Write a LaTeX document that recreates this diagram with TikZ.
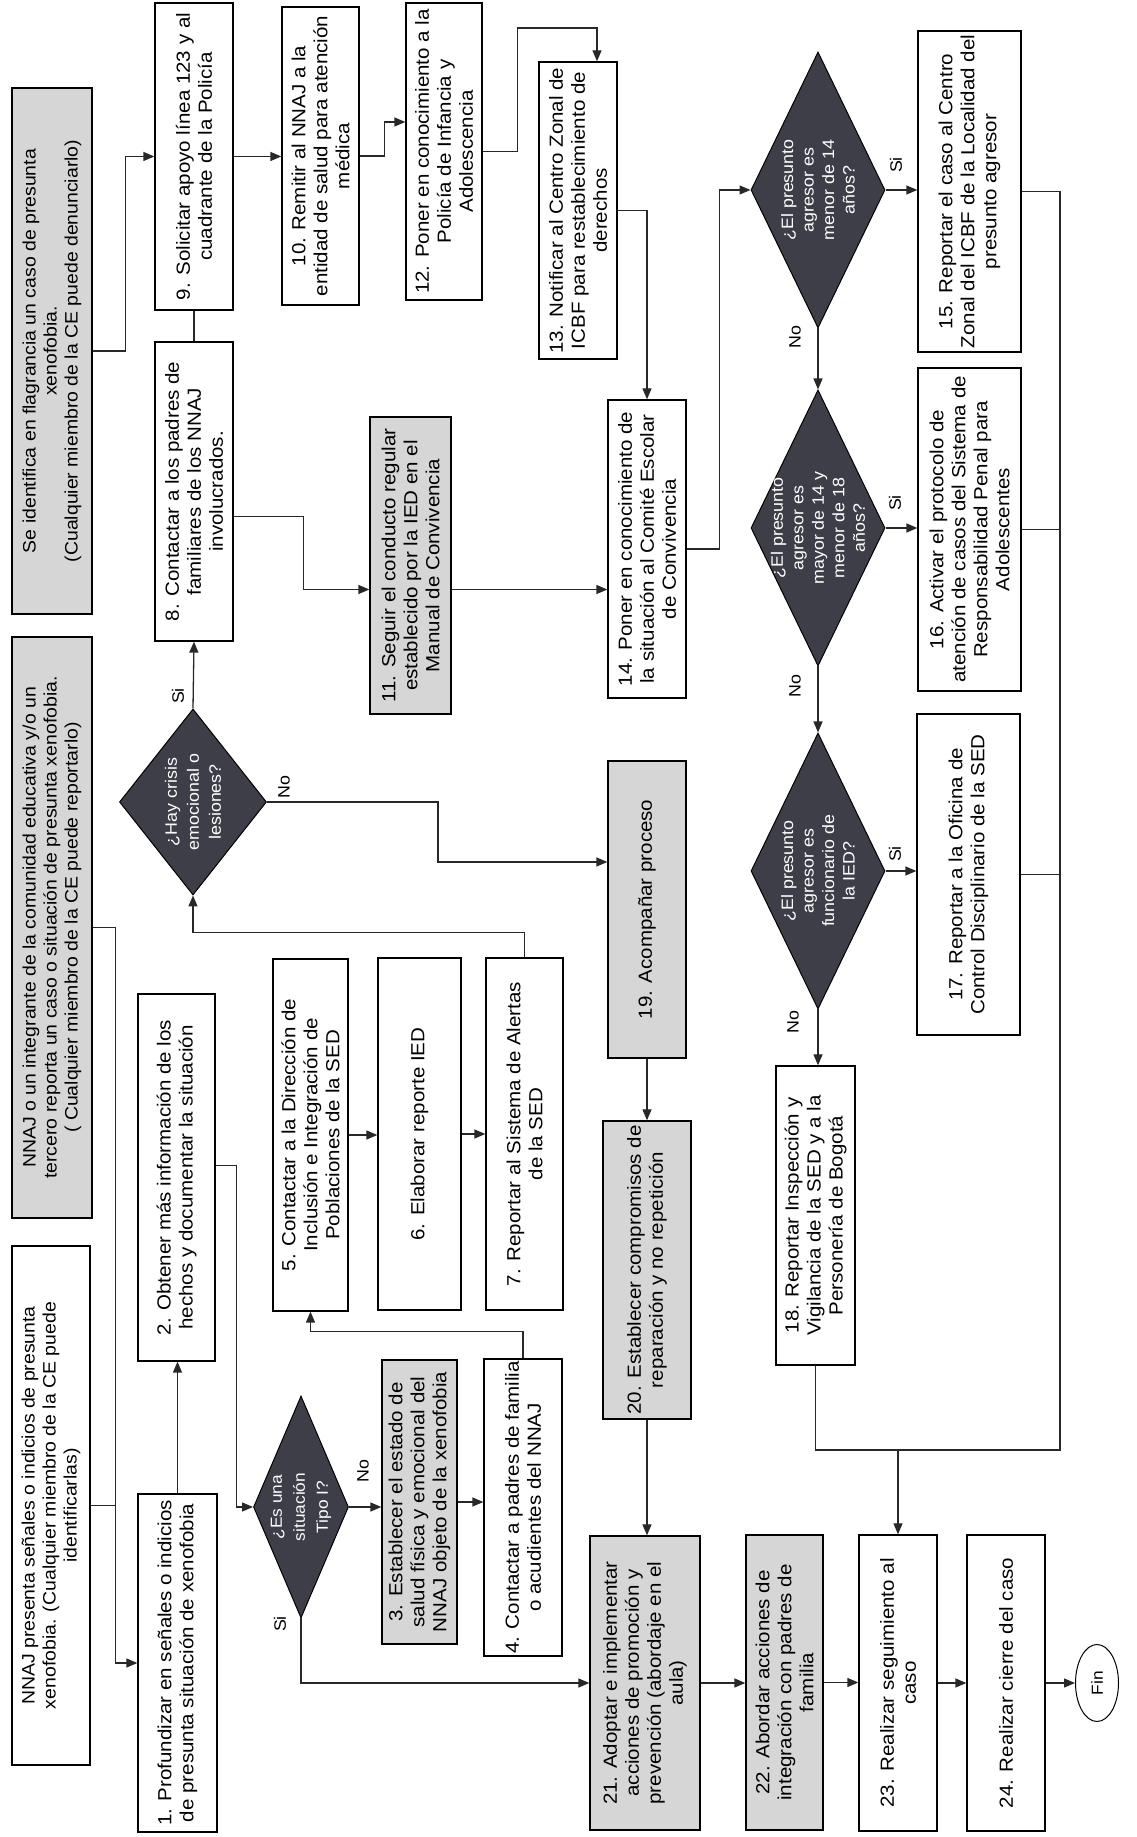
\documentclass[tikz,border=0pt]{standalone}
\usepackage{fontspec}
\setmainfont{Liberation Sans}[FakeStretch=1.08]
\usetikzlibrary{shapes.geometric,arrows.meta,calc}
\definecolor{diafill}{RGB}{62,62,72}
\definecolor{boxgray}{RGB}{214,214,214}
\definecolor{linecol}{RGB}{40,40,40}
\tikzset{
  box/.style={draw=black, line width=1.3pt, fill=white, inner sep=2pt, align=center, font=\fontsize{19}{22}\selectfont, text=black},
  gbox/.style={box, fill=boxgray},
  topbox/.style={box, font=\fontsize{18}{21}\selectfont},
  dia/.style={diamond, draw=black, line width=1pt, fill=diafill, inner sep=0pt},
  dtext/.style={align=center, text=white, inner sep=0pt, font=\fontsize{16.5}{20.5}\selectfont},
  lbl/.style={font=\fontsize{16.5}{18}\selectfont, inner sep=0pt},
  line/.style={draw=linecol, line width=1.3pt},
  con/.style={line, -{Triangle[length=11pt,width=9pt]}},
}
\begin{document}
\begin{tikzpicture}[x=1pt,y=1pt]
\fill[white] (0,0) rectangle (1137,1837);
\useasboundingbox (0,0) rectangle (1137,1837);
\begin{scope}[rotate=90, transform shape]
% top row
\node[topbox, fill=boxgray, minimum width=526pt, minimum height=80pt] (flag) at (1486,-52) {Se identifica en flagrancia un caso de presunta\\xenofobia.\\(Cualquier miembro de la CE puede denunciarlo)};
\node[topbox, fill=boxgray, minimum width=581pt, minimum height=80pt] (rep) at (909.5,-52) {NNAJ o un integrante de la comunidad educativa y/o un\\tercero reporta un caso o situación de presunta xenofobia.\\( Cualquier miembro de la CE puede reportarlo)};
\node[topbox, minimum width=519pt, minimum height=78pt] (sen) at (331.5,-51) {NNAJ presenta señales o indicios de presunta\\xenofobia. (Cualquier miembro de la CE puede\\identificarlas)};
% left part
\node[box, minimum width=338pt, minimum height=79pt] (b1) at (174,-177.5) {1. Profundizar en señales o indicios\\de presunta situación de xenofobia};
\node[box, minimum width=367pt, minimum height=77pt] (b2) at (659.5,-176.5) {2. Obtener más información de los\\hechos y documentar la situación};
\node[dia, minimum width=222pt, minimum height=95pt] (T1) at (330,-301) {};
\node[dtext, font=\fontsize{16}{23}\selectfont] at (T1) {¿Es una\\situación\\Tipo I?};
\node[gbox, minimum width=284pt, minimum height=75pt] (b3) at (335,-419.5) {3. Establecer el estado de\\salud física y emocional del\\NNAJ objeto de la xenofobia};
\node[box, minimum width=295pt, minimum height=78pt] (b4) at (329.5,-523) {4. Contactar a padres de familia\\o acudientes del NNAJ};
\node[box, minimum width=352pt, minimum height=75pt] (b5) at (702,-310.5) {5. Contactar a la Dirección de\\Inclusión e Integración de\\Poblaciones de la SED};
\node[box, minimum width=352pt, minimum height=83pt] (b6) at (703,-419.5) {6. Elaborar reporte IED};
\node[box, minimum width=352pt, minimum height=77pt] (b7) at (703,-524.5) {7. Reportar al Sistema de Alertas\\de la SED};
\node[dia, minimum width=186pt, minimum height=147pt] (crisis) at (1035,-193) {};
\node[dtext, font=\fontsize{16.5}{22}\selectfont] at (crisis) {¿Hay crisis\\emocional o\\lesiones?};
\node[box, minimum width=299pt, minimum height=78pt] (b8) at (1345.5,-194) {8. Contactar a los padres de\\familiares de los NNAJ\\involucrados.};
\node[box, minimum width=307pt, minimum height=78pt] (b9) at (1680.5,-194) {9. Solicitar apoyo línea 123 y al\\cuadrante de la Policía};
\node[box, minimum width=298pt, minimum height=77pt] (b10) at (1681,-320.5) {10. Remitir al NNAJ a la\\entidad de salud para atención\\médica};
\node[gbox, minimum width=297pt, minimum height=81pt] (b11) at (1271.5,-410.5) {11. Seguir el conducto regular\\establecido por la IED en el\\Manual de Convivencia};
\node[box, minimum width=297pt, minimum height=76pt] (b12) at (1685.5,-444) {12. Poner en conocimiento a la\\Policía de Infancia y\\Adolescencia};
\node[box, minimum width=297pt, minimum height=78pt] (b13) at (1626.5,-578) {13. Notificar al Centro Zonal de\\ICBF para restablecimiento de\\derechos};
\node[box, minimum width=298pt, minimum height=78pt] (b14) at (1288,-647) {14. Poner en conocimiento de\\la situación al Comité Escolar\\de Convivencia};
\node[gbox, minimum width=297pt, minimum height=78pt] (b19) at (927.5,-647) {19. Acompañar proceso};
\node[gbox, minimum width=298pt, minimum height=88pt] (b20) at (567,-647) {20. Establecer compromisos de\\reparación y no repetición};
\node[gbox, minimum width=294pt, minimum height=110pt] (b21) at (154,-645) {21. Adoptar e implementar\\acciones de promoción y\\prevención (abordaje en el\\aula)};
\node[gbox, minimum width=295pt, minimum height=77pt] (b22) at (154.5,-784.5) {22. Abordar acciones de\\integración con padres de\\familia};
\node[box, minimum width=296pt, minimum height=78pt] (b23) at (154,-898) {23. Realizar seguimiento al\\caso};
\node[box, minimum width=296pt, minimum height=78pt] (b24) at (154,-1006) {24. Realizar cierre del caso};
\node[ellipse, draw=black, line width=1pt, fill=white, minimum width=77pt, minimum height=43pt, inner sep=0pt, font=\fontsize{16}{18}\selectfont] (fin) at (154,-1097) {Fin};
% right column
\node[dia, minimum width=276pt, minimum height=134pt] (D14) at (1647,-818) {};
\node[dtext] at (D14) {¿El presunto\\agresor es\\menor de 14\\años?};
\node[dia, minimum width=276pt, minimum height=134pt] (D18) at (1309,-818) {};
\node[dtext] at (D18) {¿El presunto\\agresor es\\mayor de 14 y\\menor de 18\\años?};
\node[dia, minimum width=276pt, minimum height=134pt] (DF) at (966,-818) {};
\node[dtext] at (DF) {¿El presunto\\agresor es\\funcionario de\\la IED?};
\node[box, minimum width=321pt, minimum height=103pt] (b15) at (1645.5,-969.5) {15. Reportar el caso al Centro\\Zonal del ICBF de la Localidad del\\presunto agresor};
\node[box, minimum width=323pt, minimum height=103pt] (b16) at (1307.5,-969.5) {16. Activar el protocolo de\\atención de casos del Sistema de\\Responsabilidad Penal para\\Adolescentes};
\node[box, minimum width=321pt, minimum height=103pt] (b17) at (962.5,-968.5) {17. Reportar a la Oficina de\\Control Disciplinario de la SED};
\node[box, minimum width=299pt, minimum height=79pt] (b18) at (621.5,-815.5) {18. Reportar Inspección y\\Vigilancia de la SED y a la\\Personería de Bogotá};
% labels
\node[lbl] at (1141,-178) {Si};
\node[lbl] at (1050,-284) {No};
\node[lbl] at (366,-363) {No};
\node[lbl] at (213,-280) {Si};
\node[lbl] at (1672,-896) {Si};
\node[lbl] at (1500,-795) {No};
\node[lbl] at (1334,-895) {Si};
\node[lbl] at (1151,-795) {No};
\node[lbl] at (983,-895) {Si};
\node[lbl] at (815,-793) {No};
% connectors
\draw[con] (flag.south) -- ++(0,-33) -| (b9.north);
\draw[con] (b9.south) -- (b9.south |- b10.north);
\draw[con] (b10.south) -- ++(0,-25) -| ($(b12.north)+(29.5,0)$);
\draw[con] (b12.south) -- ++(0,-35) -- ++(123.5,0) |- ($(b13.east)+(0,-19)$);
\draw[con] (b13.south) |- (b14.east);
\draw[line] (b8.east) -- (b9.west);
\draw[con] (crisis.east) -- (b8.west);
\draw[con] ($(b8.south)+(-25,0)$) -- ++(0,-70) -| ($(b11.north)+(-24,0)$);
\draw[con] ($(b11.south)+(-24,0)$) -- ($(b14.north)+(-40.5,0)$);
\draw[con] (b14.south) -- ++(0,-33) -| (D14.north);
\draw[con] (D14.south) -- (D14.south |- b15.north);
\draw[con] (D14.west) -- (D18.east);
\draw[con] (D18.south) -- (D18.south |- b16.north);
\draw[con] (D18.west) -- (DF.east);
\draw[con] (DF.south) -- (DF.south |- b17.north);
\draw[con] (DF.west) -- (DF.west -| b18.east);
\draw[con] (crisis.south) -- ++(0,-171) -| ($(b19.north)+(47.5,0)$);
\draw[con] (b19.west) -- (b20.east);
\draw[con] (b20.west) -- (b20.west -| b21.east);
\draw[con] (b21.south) -- (b21.south |- b22.north);
\draw[con] (b22.south) -- (b22.south |- b23.north);
\draw[con] (b23.south) -- (b24.north);
\draw[con] (b24.south) -- (fin.north);
\draw[con] (T1.west) -| (b21.north);
\draw[con] (T1.south) -- (T1.south |- b3.north);
\draw[con] (b3.south) -- (b3.south |- b4.north);
\draw[con] (b4.east) -- ++(27,0) |- (b5.west);
\draw[con] (b5.south) -- (b5.south |- b6.north);
\draw[con] (b6.south) -- (b6.south |- b7.north);
\draw[con] (b7.east) -- ++(25,0) |- (crisis.west);
\draw[con] ($(b2.south)+(12,0)$) -- ++(0,-21) -| (T1.north);
\draw[con] (b1.east) -- (b1.east -| b2.west);
\draw[con] (rep.south) -- ++(0,-23) -| (b1.north);
\draw[line] (sen.south) -- ++(0,-25);
% collector
\coordinate (cA) at (1645.5,-1060);
\coordinate (cB) at (387,-1060);
\draw[line, line width=1.6pt] (b15.south) -- (cA) -- (cB) -- (cB |- b18.west) -- (b18.west);
\draw[line] (b16.south) -- (b16.south |- cA);
\draw[line] (b17.south) -- (b17.south |- cA);
\draw[con] (cB |- b23.east) -- (b23.east);
\end{scope}
\end{tikzpicture}
\end{document}
